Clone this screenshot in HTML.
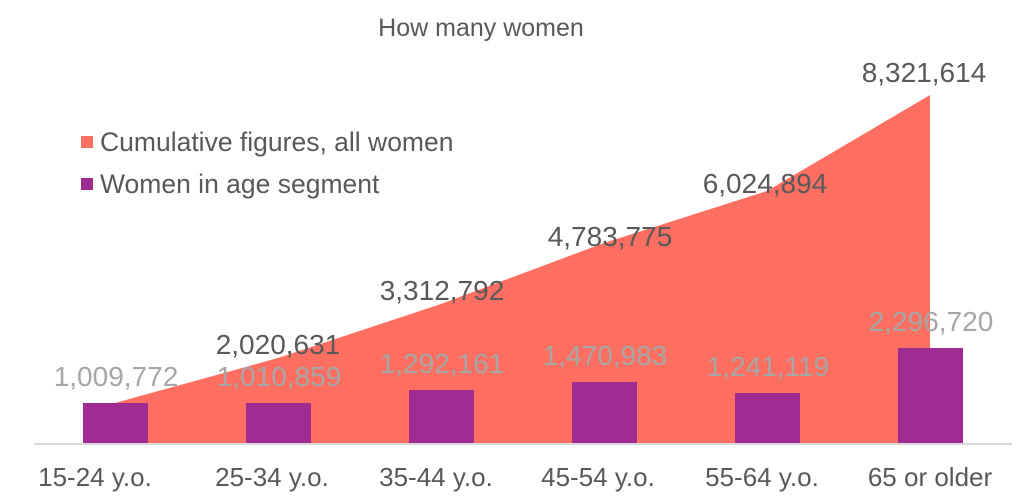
<!DOCTYPE html>
<html><head><meta charset="utf-8"><style>
html,body{margin:0;padding:0;background:#fff;}
svg text{font-family:"Liberation Sans",Arial,sans-serif;}
</style></head><body>
<svg width="1024" height="498" viewBox="0 0 1024 498" xmlns="http://www.w3.org/2000/svg">
<rect width="1024" height="498" fill="#fff"/>
<text x="481" y="36" font-size="25" fill="#595959" text-anchor="middle">How many women</text>
<polygon points="115,403 278,358 441,304 604,243 767,191 930,95 930,444 115,444" fill="#FF6F61"/>
<g fill="#A02B93">
<rect x="83" y="403" width="65" height="41"/>
<rect x="246" y="403" width="65" height="41"/>
<rect x="409" y="390" width="65" height="54"/>
<rect x="572" y="382" width="65" height="62"/>
<rect x="735" y="393" width="65" height="51"/>
<rect x="898" y="348" width="65" height="96"/>
</g>
<line x1="34" y1="444" x2="1012" y2="444" stroke="#D9D9D9" stroke-width="2"/>
<g font-size="28" fill="#595959" text-anchor="middle">
<text x="924" y="82">8,321,614</text>
<text x="765" y="193">6,024,894</text>
<text x="610" y="246">4,783,775</text>
<text x="442" y="300">3,312,792</text>
<text x="278" y="354">2,020,631</text>
</g>
<g font-size="28" fill="#A6A6A6" text-anchor="middle">
<text x="116" y="386">1,009,772</text>
<text x="279" y="386">1,010,859</text>
<text x="442" y="373">1,292,161</text>
<text x="605" y="365">1,470,983</text>
<text x="768" y="376">1,241,119</text>
<text x="931" y="331">2,296,720</text>
</g>
<g font-size="26" fill="#595959" text-anchor="middle">
<text x="95" y="486">15-24 y.o.</text>
<text x="272" y="486">25-34 y.o.</text>
<text x="436" y="486">35-44 y.o.</text>
<text x="598" y="486">45-54 y.o.</text>
<text x="762" y="486">55-64 y.o.</text>
<text x="930" y="486">65 or older</text>
</g>
<rect x="81" y="136" width="12" height="12" fill="#FF6F61"/>
<rect x="81" y="178" width="12" height="12" fill="#A02B93"/>
<g font-size="26.5" fill="#595959">
<text x="100" y="151">Cumulative figures, all women</text>
<text x="100" y="193">Women in age segment</text>
</g>
</svg>
</body></html>
